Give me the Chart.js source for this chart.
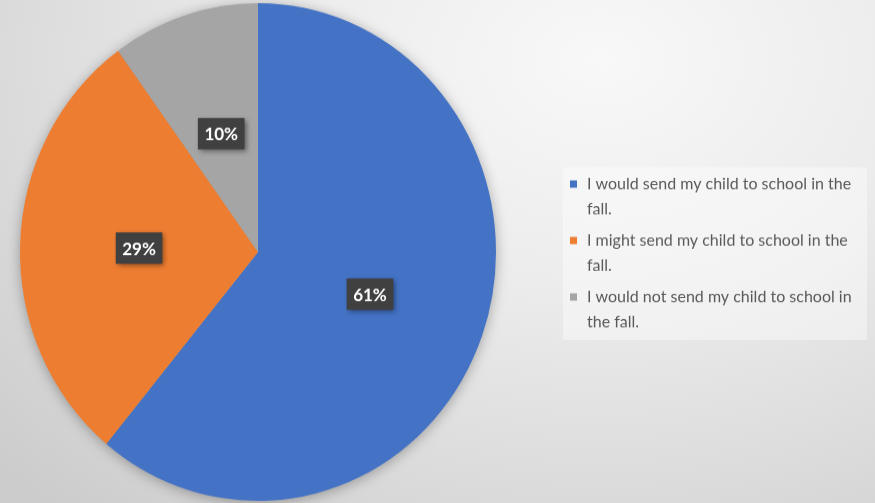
<!DOCTYPE html>
<html>
<head>
<meta charset="utf-8">
<script src="https://cdn.jsdelivr.net/npm/chart.js@4.4.1/dist/chart.umd.min.js"></script>
<style>
  html, body { margin: 0; padding: 0; width: 875px; height: 503px; overflow: hidden; }
  body {
    background: radial-gradient(ellipse 820px 600px at 600px 60px,
      #f8f8f8 0%, #ececec 38%, #dcdcdc 70%, #cccccc 100%);
  }
  /* the chart is drawn on a slightly shorter canvas and stretched vertically */
  #wrap { position: absolute; left: 0; top: 0; width: 875px; height: 481px;
          transform: scaleY(1.0457); transform-origin: 0 0; }
</style>
</head>
<body>
<div id="wrap"><canvas id="chart"></canvas></div>
<script>
// Survey answers (legend text split into its two printed lines)
const categories = [
  ['I would send my child to school in the', 'fall.'],
  ['I might send my child to school in the', 'fall.'],
  ['I would not send my child to school in', 'the fall.']
];
const shares = [61, 29, 10];
const sliceColors = ['#4472C4', '#ED7D31', '#A5A5A5'];

const FONT = 'Lato, "Open Sans", sans-serif';

// Soft shadow under the whole pie
const pieShadow = {
  id: 'pieShadow',
  beforeDatasetsDraw(chart) {
    const arc = chart.getDatasetMeta(0).data[0];
    if (!arc) return;
    const { x, y, outerRadius } = arc.getProps(['x', 'y', 'outerRadius'], true);
    const ctx = chart.ctx;
    ctx.save();
    ctx.shadowColor = 'rgba(0,0,0,0.35)';
    ctx.shadowBlur = 14;
    ctx.shadowOffsetX = 0;
    ctx.shadowOffsetY = 2;
    ctx.fillStyle = '#a0a0a0';
    ctx.beginPath();
    ctx.arc(x, y, outerRadius - 1, 0, Math.PI * 2);
    ctx.fill();
    ctx.restore();
  }
};

// Percentage labels in dark boxes, placed halfway out along each slice
const sliceLabels = {
  id: 'sliceLabels',
  afterDatasetsDraw(chart) {
    const ctx = chart.ctx;
    const meta = chart.getDatasetMeta(0);
    const values = chart.data.datasets[0].data;
    ctx.save();
    ctx.font = 'bold 17px ' + FONT;
    ctx.textAlign = 'center';
    ctx.textBaseline = 'middle';
    meta.data.forEach((arc, i) => {
      const p = arc.tooltipPosition(true);
      const text = values[i] + '%';
      const w = ctx.measureText(text).width + 13;
      const h = 30;
      ctx.save();
      ctx.shadowColor = 'rgba(0,0,0,0.45)';
      ctx.shadowBlur = 5;
      ctx.shadowOffsetX = 2;
      ctx.shadowOffsetY = 2;
      ctx.fillStyle = '#404040';
      ctx.fillRect(p.x - w / 2, p.y - h / 2, w, h);
      ctx.restore();
      ctx.fillStyle = '#ffffff';
      ctx.fillText(text, p.x, p.y + 1);
    });
    ctx.restore();
  }
};

// Legend panel on the right, with wrapped entries
const sideLegend = {
  id: 'sideLegend',
  afterDraw(chart) {
    const ctx = chart.ctx;
    const labels = chart.data.labels;
    const colors = chart.data.datasets[0].backgroundColor;
    const box = { x: 563, y: 160, w: 304, h: 165 };
    ctx.save();
    ctx.fillStyle = 'rgba(255,255,255,0.4)';
    ctx.fillRect(box.x, box.y, box.w, box.h);
    ctx.font = '16px ' + FONT;
    ctx.textBaseline = 'middle';
    ctx.textAlign = 'left';
    const lineH = 23.5;
    const itemGap = 54;
    labels.forEach((lines, i) => {
      const y0 = 176 + i * itemGap;
      ctx.fillStyle = colors[i];
      ctx.fillRect(570, y0 - 3.5, 7, 7);
      ctx.fillStyle = '#595959';
      lines.forEach((ln, k) => ctx.fillText(ln, 587, y0 + k * lineH));
    });
    ctx.restore();
  }
};

new Chart(document.getElementById('chart'), {
  type: 'pie',
  data: {
    labels: categories,
    datasets: [{
      data: shares,
      backgroundColor: sliceColors,
      borderWidth: 0
    }]
  },
  options: {
    responsive: true,
    maintainAspectRatio: false,
    animation: false,
    rotation: 0,
    layout: { padding: { left: 20, right: 379, top: 3, bottom: 2 } },
    plugins: {
      legend: { display: false },
      tooltip: { enabled: false }
    }
  },
  plugins: [pieShadow, sliceLabels, sideLegend]
});
</script>
</body>
</html>
